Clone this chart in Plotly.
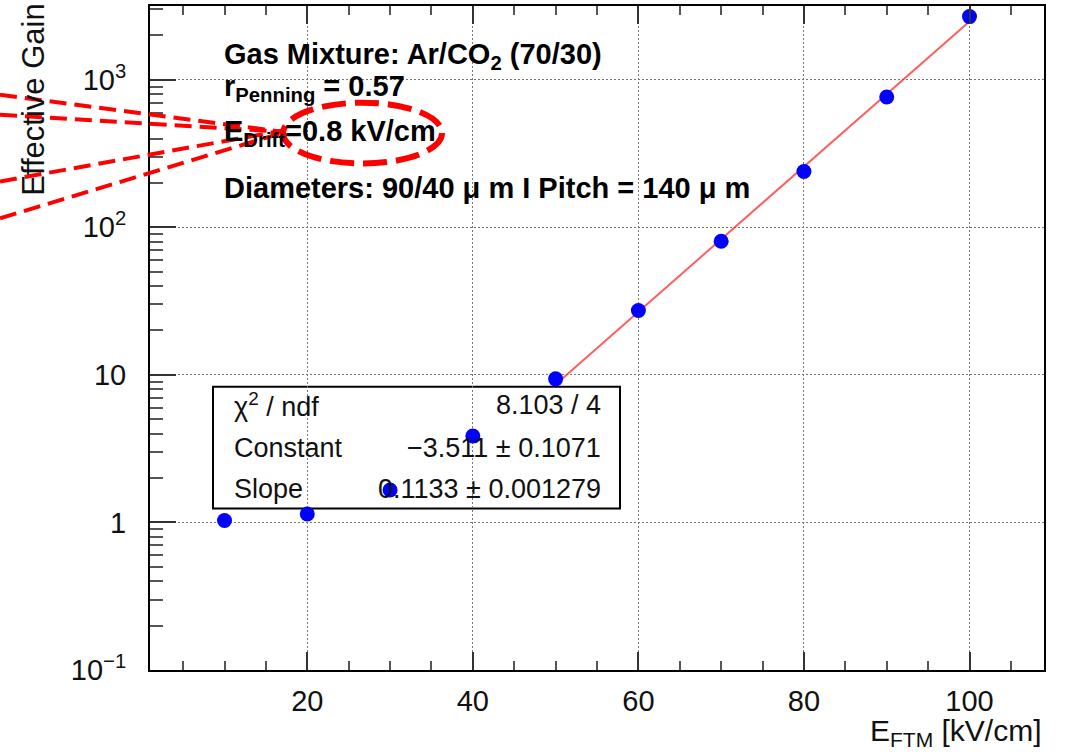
import numpy as np
import plotly.graph_objects as go

# Effective gain of the FTM versus the FTM field
E_FTM = [10, 20, 30, 40, 50, 60, 70, 80, 90, 100]
GAIN = [1.03, 1.14, 1.66, 3.85, 9.4, 27.3, 80.5, 239, 764, 2680]

# Exponential fit: gain = exp(constant + slope * E)
FIT_CONST = -3.511
FIT_CONST_ERR = 0.1071
FIT_SLOPE = 0.1133
FIT_SLOPE_ERR = 0.001279
CHI2 = 8.103
NDF = 4
FIT_RANGE = [50, 100]

X_TICKS = [20, 40, 60, 80, 100]
X_MINOR = [5, 10, 15, 25, 30, 35, 45, 50, 55, 65, 70, 75, 85, 90, 95, 105]
Y_TICKS = [0.1, 1, 10, 100, 1000]
Y_TICK_TEXT = ["10<sup>\u22121</sup>", "1", "10", "10<sup>2</sup>", "10<sup>3</sup>"]

INFO_LINES = [
    "Gas Mixture: Ar/CO<sub>2</sub> (70/30)",
    "r<sub>Penning</sub> = 0.57",
    "E<sub>Drift</sub>=0.8 kV/cm",
    "Diameters: 90/40 \u03bc m I Pitch = 140 \u03bc m",
]

FONT = "Liberation Sans, Arial, Helvetica, sans-serif"
W, H = 1068, 755
L, R, T, B = 150, 24, 4, 85
PW, PH = W - L - R, H - T - B


def px(x):
    return (x - L) / PW


def py(y):
    return 1 - (y - T) / PH


fit_x = np.linspace(FIT_RANGE[0], FIT_RANGE[1], 51)
fit_y = np.exp(FIT_CONST + FIT_SLOPE * fit_x)

y_minor = [m * 10.0 ** k for k in range(-1, 4) for m in range(2, 10)]
y_minor = [v for v in y_minor if v < 10 ** 3.5]

fig = go.Figure()
fig.add_trace(go.Scatter(
    x=fit_x, y=fit_y, mode="lines",
    line=dict(color="rgba(255,40,40,0.75)", width=2),
    hoverinfo="skip", showlegend=False,
))
fig.add_trace(go.Scatter(
    x=E_FTM, y=GAIN, mode="markers",
    marker=dict(color="#0000ff", size=15, line=dict(width=0)),
    showlegend=False, cliponaxis=False,
))

axis_common = dict(
    showline=True, linecolor="black", linewidth=2, mirror="ticks",
    ticks="inside", tickcolor="#333", tickwidth=1.5,
    showgrid=True, gridcolor="#777", griddash="2px,2px", gridwidth=1.2,
    zeroline=False,
    tickfont=dict(family=FONT, size=29, color="#111"),
)

fig.update_xaxes(
    **axis_common,
    range=[1, 109],
    tickmode="array", tickvals=X_TICKS, ticklen=18,
    ticklabelstandoff=4,
    minor=dict(ticks="inside", ticklen=9, tickcolor="#555", tickwidth=1.5,
               tickmode="array", tickvals=X_MINOR, showgrid=False),
)
fig.update_yaxes(
    **{**axis_common, "mirror": True},
    type="log", range=[-1, 3.5],
    tickmode="array", tickvals=Y_TICKS, ticktext=Y_TICK_TEXT, ticklen=26,
    ticklabelstandoff=16,
    minor=dict(ticks="inside", ticklen=13, tickcolor="#555", tickwidth=1.5,
               tickmode="array", tickvals=y_minor, showgrid=False),
)

shapes = []
# fit statistics box
shapes.append(dict(type="rect", xref="paper", yref="paper",
                   x0=px(213), x1=px(620), y0=py(508), y1=py(386),
                   line=dict(color="black", width=2), layer="below"))
# highlight around the drift field value
pointer_lines = [((0, 93), (281, 130)), ((0, 113), (281, 130)),
                 ((0, 180), (283, 129)), ((0, 217), (283, 131))]
for (xa, ya), (xb, yb) in pointer_lines:
    shapes.append(dict(type="line", xref="paper", yref="paper",
                       x0=px(xa), y0=py(ya), x1=px(xb), y1=py(yb),
                       line=dict(color="#ff0000", width=4, dash="17px,8px"),
                       layer="above"))
shapes.append(dict(type="circle", xref="paper", yref="paper",
                   x0=px(283), x1=px(442), y0=py(162), y1=py(101),
                   line=dict(color="#ff0000", width=6, dash="24px,9px"),
                   layer="above"))

annotations = []
info_y = [54, 86, 131, 187]
for text, yy in zip(INFO_LINES, info_y):
    annotations.append(dict(
        text=text, xref="paper", yref="paper", x=px(222), y=py(yy),
        xanchor="left", yanchor="middle", showarrow=False,
        font=dict(family=FONT, size=29, color="black", weight="bold"),
    ))

stats_rows = [
    ("\u03c7<sup>2</sup> / ndf", f"{CHI2} / {NDF}", 404),
    ("Constant", f"\u2212{abs(FIT_CONST)} \u00b1 {FIT_CONST_ERR}", 447),
    ("Slope", f"{FIT_SLOPE} \u00b1 {FIT_SLOPE_ERR}", 488),
]
for name, val, yy in stats_rows:
    annotations.append(dict(
        text=name, xref="paper", yref="paper", x=px(232), y=py(yy),
        xanchor="left", yanchor="middle", showarrow=False,
        font=dict(family=FONT, size=27, color="#111"),
    ))
    annotations.append(dict(
        text=val, xref="paper", yref="paper", x=px(603), y=py(yy),
        xanchor="right", yanchor="middle", showarrow=False,
        font=dict(family=FONT, size=27, color="#111"),
    ))

annotations.append(dict(
    text="Effective Gain", xref="paper", yref="paper", x=px(34), y=py(98),
    xanchor="center", yanchor="middle", textangle=-90, showarrow=False,
    font=dict(family=FONT, size=31, color="#111"),
))
annotations.append(dict(
    text="E<sub>FTM</sub> [kV/cm]", xref="paper", yref="paper", x=px(1044), y=py(733),
    xanchor="right", yanchor="middle", showarrow=False,
    font=dict(family=FONT, size=30, color="#111"),
))

fig.update_layout(
    width=W, height=H,
    margin=dict(l=L, r=R, t=T, b=B),
    paper_bgcolor="white", plot_bgcolor="white",
    shapes=shapes, annotations=annotations,
    showlegend=False,
)

fig.write_html("out.html")
